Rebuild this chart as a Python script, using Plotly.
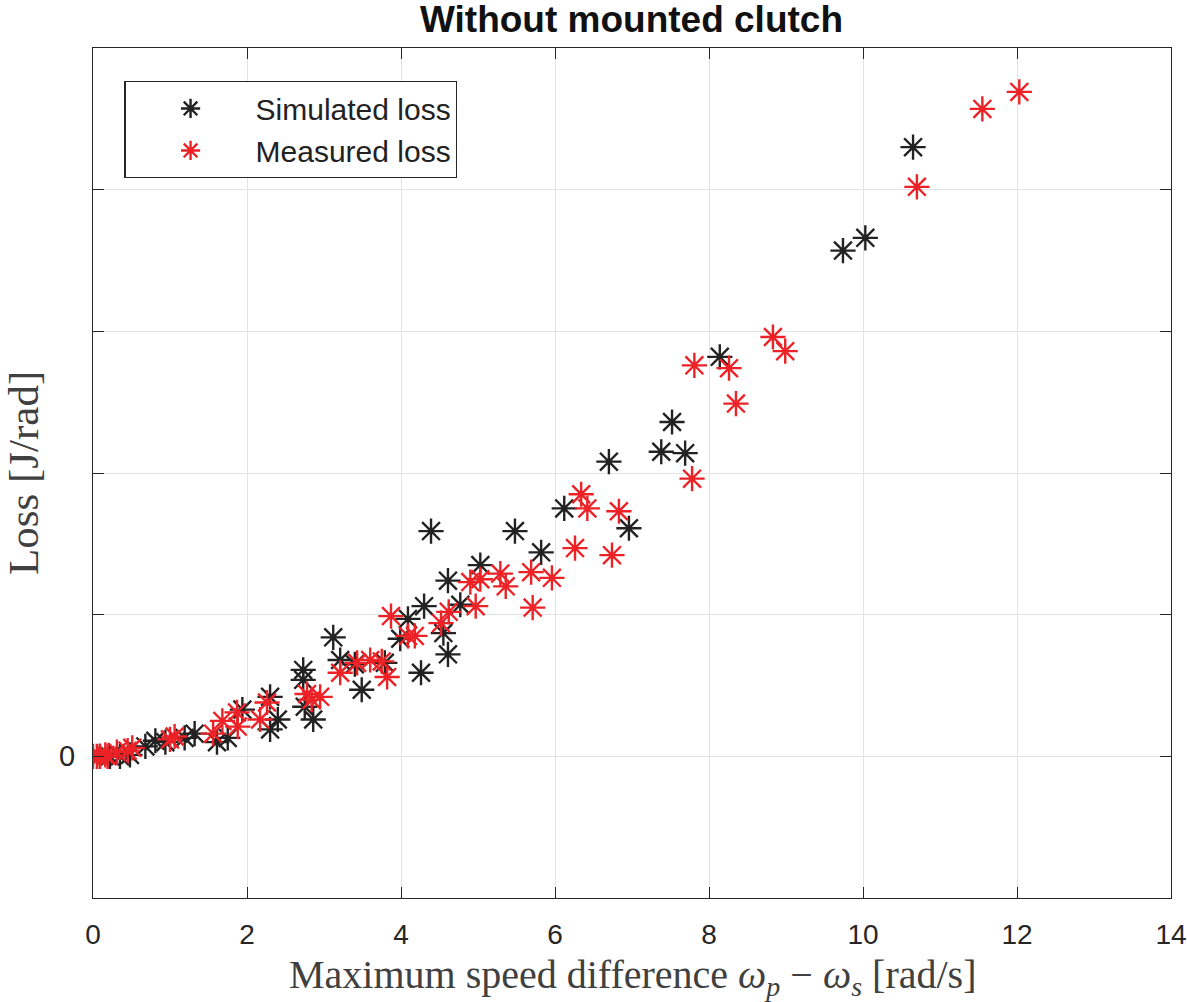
import plotly.graph_objects as go

# Simulated loss vs. maximum speed difference
sim_speed = [10.65, 9.74, 10.03, 8.14, 7.52, 7.38, 7.69, 6.70, 6.12, 6.96,
             4.39, 5.48, 5.82, 5.03, 4.61, 4.30, 4.77, 4.09, 4.55, 4.61,
             4.26, 3.99, 3.12, 2.73, 3.21, 3.49, 2.75, 2.86, 2.73, 2.30,
             2.40, 2.30, 1.94, 1.75, 1.61, 1.32, 1.19, 0.94, 0.81, 0.68,
             0.35, 0.22, 0.09, 0.48, 3.79, 3.40]
sim_loss = [4.30, 3.57, 3.66, 2.82, 2.36, 2.15, 2.14, 2.08, 1.75, 1.61,
            1.59, 1.59, 1.44, 1.35, 1.24, 1.06, 1.07, 0.97, 0.87, 0.72,
            0.59, 0.83, 0.84, 0.61, 0.68, 0.47, 0.35, 0.26, 0.54, 0.42,
            0.26, 0.19, 0.33, 0.13, 0.10, 0.16, 0.13, 0.10, 0.11, 0.07,
            0.00, 0.00, 0.00, 0.01, 0.66, 0.65]

# Measured loss vs. maximum speed difference
meas_speed = [12.03, 11.55, 10.70, 8.83, 8.99, 7.81, 8.26, 8.35, 7.78, 6.34,
              6.42, 6.83, 6.26, 6.74, 5.29, 5.36, 5.69, 5.96, 4.90, 5.03,
              4.97, 4.62, 4.52, 5.71, 3.87, 4.09, 4.18, 3.82, 3.75, 3.60,
              3.43, 3.21, 2.78, 2.95, 2.26, 2.17, 1.87, 1.88, 1.68, 1.56,
              1.06, 1.00, 0.51, 0.45, 0.31, 0.19, 0.09, 0.00, 0.05, 0.16,
              2.84]
meas_loss = [4.69, 4.57, 4.02, 2.96, 2.86, 2.76, 2.74, 2.49, 1.96, 1.85,
             1.75, 1.73, 1.47, 1.42, 1.29, 1.20, 1.30, 1.26, 1.23, 1.25,
             1.06, 1.02, 0.94, 1.05, 0.99, 0.85, 0.85, 0.56, 0.67, 0.68,
             0.66, 0.59, 0.44, 0.42, 0.38, 0.26, 0.31, 0.21, 0.25, 0.16,
             0.14, 0.12, 0.06, 0.04, 0.03, 0.00, 0.00, 0.00, 0.00, 0.01,
             0.40]

x_ticks = [0, 2, 4, 6, 8, 10, 12, 14]
y_ticks = [-1, 0, 1, 2, 3, 4, 5]
y_label_value = 0

AX = "#262626"
GRID = "#e3e3e3"
SANS = "Liberation Sans, Arial, Helvetica, sans-serif"
SERIF = "Liberation Serif, Times New Roman, serif"

fig = go.Figure()
fig.add_trace(go.Scatter(
    x=sim_speed, y=sim_loss, mode="markers", name="Simulated loss",
    marker=dict(symbol="asterisk-open", size=21, color="#222222",
                line=dict(color="#222222", width=2.4)),
))
fig.add_trace(go.Scatter(
    x=meas_speed, y=meas_loss, mode="markers", name="Measured loss",
    marker=dict(symbol="asterisk-open", size=21, color="#ec2227",
                line=dict(color="#ec2227", width=2.4)),
))

axis_common = dict(
    showline=True, linecolor=AX, linewidth=1.3, mirror="ticks",
    ticks="inside", ticklen=11, tickwidth=1.3, tickcolor=AX,
    showgrid=True, gridcolor=GRID, gridwidth=1, zeroline=False,
    automargin=False,
    tickfont=dict(family=SANS, size=28, color=AX),
)

fig.update_layout(
    width=1187, height=1002, autosize=False,
    margin=dict(l=93, r=16, t=48, b=104),
    paper_bgcolor="white", plot_bgcolor="white",
    title=dict(text="<b>Without mounted clutch</b>", x=0.532, xanchor="center",
               y=0.981, yanchor="middle",
               font=dict(family=SANS, size=37, color="#111111")),
    xaxis=dict(range=[0, 14], tickvals=x_ticks, ticklabelstandoff=11,
               ticklabeloverflow="allow", **axis_common),
    yaxis=dict(range=[-1, 5], tickvals=y_ticks, showticklabels=False,
               **axis_common),
    legend=dict(x=0.029, y=0.961, xanchor="left", yanchor="top",
                bgcolor="white", bordercolor=AX, borderwidth=1.3,
                font=dict(family=SANS, size=30, color="#222222"),
                itemwidth=120, tracegroupgap=0),
    showlegend=True,
)

# the single labelled y tick
fig.add_annotation(x=0, xref="paper", xanchor="right", xshift=-16,
                   y=y_label_value, yref="y", yanchor="middle",
                   text=str(y_label_value), showarrow=False,
                   font=dict(family=SANS, size=29, color=AX))

# axis titles
fig.add_annotation(x=0.5, xref="paper", xanchor="center",
                   y=-0.093, yref="paper", yanchor="middle",
                   text="Maximum speed difference <i>ω</i><sub><i>p</i></sub> − <i>ω</i><sub><i>s</i></sub> [rad/s]",
                   showarrow=False,
                   font=dict(family=SERIF, size=40, color="#404040"))
fig.add_annotation(x=-0.065, xref="paper", xanchor="center",
                   y=0.5, yref="paper", yanchor="middle", textangle=-90,
                   text="Loss [J/rad]", showarrow=False,
                   font=dict(family=SERIF, size=43, color="#404040"))

fig.write_html("out.html")
